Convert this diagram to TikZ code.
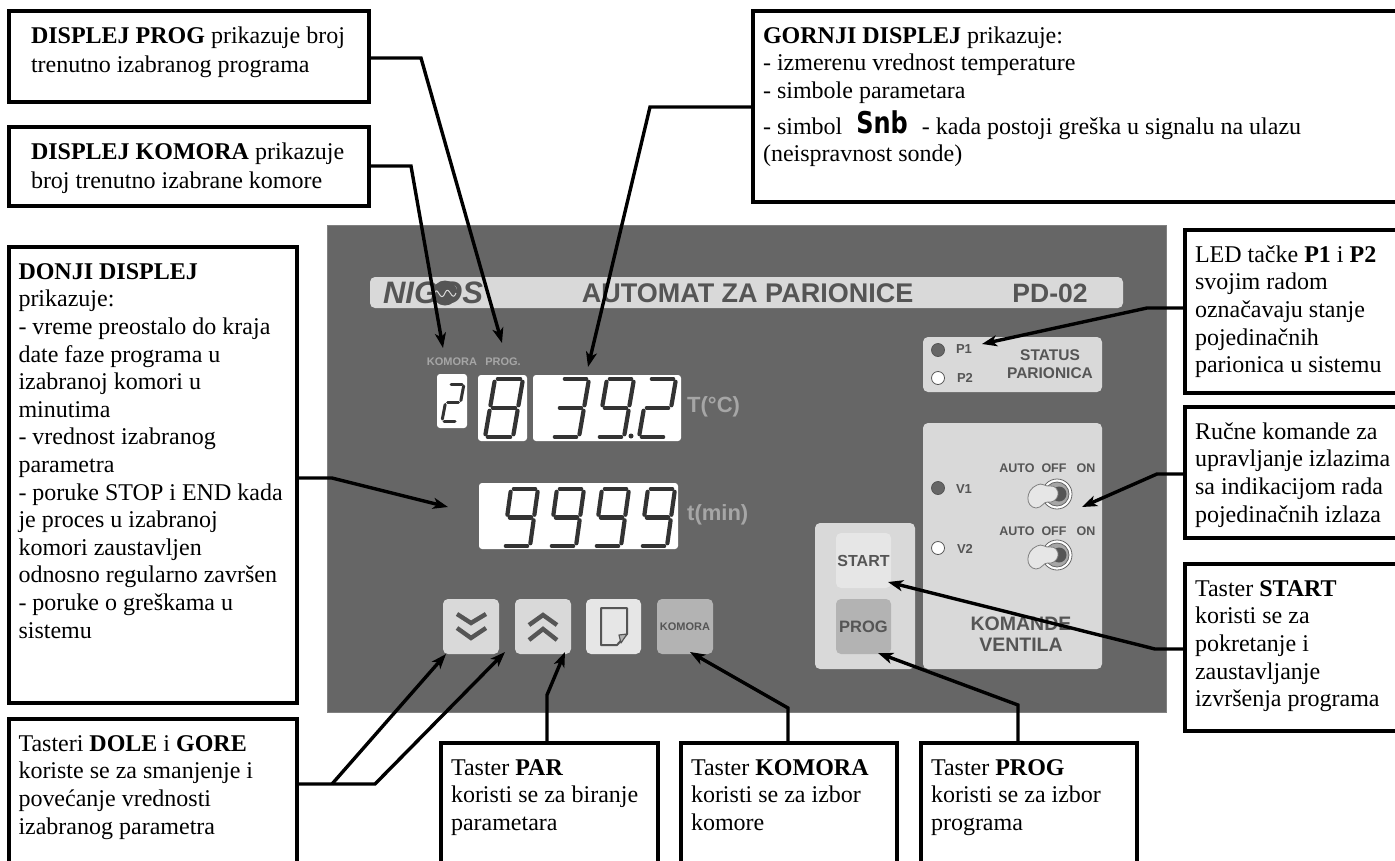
\documentclass[tikz,border=0pt]{standalone}
\usepackage{fontspec}
\usepackage{graphicx}
\usetikzlibrary{arrows.meta,positioning}
\setmainfont{Liberation Serif}
\newfontfamily\panelfont{Liberation Sans}
\newfontfamily\snbfont{DejaVu Sans}
\definecolor{panelgray}{RGB}{102,102,102}
\definecolor{platelight}{RGB}{217,217,217}
\definecolor{keylight}{RGB}{230,230,230}
\definecolor{keymid}{RGB}{179,179,179}
\definecolor{inkgray}{RGB}{85,85,85}
\definecolor{dimlabel}{RGB}{166,166,166}
\definecolor{segdark}{RGB}{51,51,51}
\newcommand{\boxtext}[3]{\parbox[t][#2pt][t]{#1pt}{\raggedright\strut #3}}
\def\digittwo{TL/TR,TR/MR,ML/MR,ML/BL,BL/BR}
\def\digitthree{TL/TR,TR/MR,MR/BR,BR/BL,ML/MR}
\def\digiteight{TL/TR,TR/MR,MR/BR,BR/BL,BL/ML,ML/TL,ML/MR}
\def\digitnine{TL/TR,TR/MR,MR/BR,BR/BL,ML/TL,ML/MR}
% x, top y, width, height, slant, segments
\newcommand{\segdigit}[6]{%
  \begin{scope}[shift={(#1,#2)}]
    \coordinate (TL) at (#5,0);
    \coordinate (TR) at (#5+#3,0);
    \coordinate (ML) at (#5/2,#4/2);
    \coordinate (MR) at (#5/2+#3,#4/2);
    \coordinate (BL) at (0,#4);
    \coordinate (BR) at (#3,#4);
    \foreach \p/\q in #6 {\draw[segment] (\p) -- (\q);}
  \end{scope}}
\newcommand{\valveswitch}[1]{%
  \begin{scope}[shift={(#1)}]
    \draw[draw=panelgray,fill=white,line width=.8pt] (9,0) circle (15);
    \draw[draw=panelgray,fill=dimlabel,line width=.8pt] (9,0) circle (12);
    \fill[inkgray] (11,0) circle (7.5);
    \draw[draw=gray,fill=keylight,line width=.8pt] (-11,-9) .. controls (-6,-12) and (-3,-7) .. (2,-8)
      .. controls (7,-9) and (11,-4) .. (10,1) .. controls (9,6) and (4,9) .. (0,8)
      .. controls (-4,7) and (-6,14) .. (-12,14) .. controls (-23,13) and (-23,-4) .. cycle;
  \end{scope}}
\begin{document}
\begin{tikzpicture}[x=1pt,y=-1pt,
  plate/.style={rectangle,rounded corners=5pt,anchor=north west,inner sep=0pt,outer sep=0pt},
  paneltext/.style={inner sep=0pt,text=inkgray,align=center,font=\panelfont\bfseries\fontsize{#1}{#1}\selectfont},
  dimtext/.style={inner sep=0pt,text=dimlabel,font=\panelfont\bfseries\fontsize{#1}{#1}\selectfont},
  led/.style={circle,draw=inkgray,line width=.8pt,minimum size=13pt,inner sep=0pt},
  segment/.style={draw=segdark,line width=4.2pt,line cap=round,shorten <=2.8pt,shorten >=2.8pt},
  chevron/.style={draw=inkgray,line width=4.4pt},
  notebox/.style={rectangle,draw=black,line width=4pt,fill=white,anchor=north west,outer sep=0pt,
    inner xsep=10pt,inner ysep=13pt,font=\fontsize{24}{27.6}\selectfont},
  lead/.style={-{Stealth[length=15pt,width=11pt,inset=4pt]},line width=3.4pt,black}
]
\useasboundingbox (0,0) rectangle (1395,860);
\fill[white] (0,0) rectangle (1395,860);
\node[rectangle,anchor=north west,inner sep=0pt,outer sep=0pt,draw=gray,fill=panelgray,minimum width=839pt,minimum height=487pt] (panel) at (327,225) {};
% title strip
\node[plate,fill=platelight,minimum width=753pt,minimum height=31pt] (strip) at (370,277) {};
\node[inner sep=0pt,text=inkgray,font=\panelfont\bfseries\itshape\fontsize{31}{31}\selectfont] (nigos) at (433,293) {NIGOS};
\node[circle,fill=inkgray,minimum size=25pt,inner sep=0pt] (logo) at (445,293) {};
\draw[platelight,line width=1pt] (434,294) .. controls (438,283) and (440,305) .. (445,293) .. controls (449,283) and (452,304) .. (456,293);
\node[paneltext=27] (title) at (747.5,293) {AUTOMAT ZA PARIONICE};
\node[paneltext=26.5] (model) at (1050,293) {PD-02};
% displays
\node[dimtext=11] (labkomora) at (452,362) {KOMORA};
\node[dimtext=11] (labprog) at (503,362) {PROG.};
\node[plate,rounded corners=3pt,fill=white,minimum width=30pt,minimum height=54pt] (dispkomora) at (437,374) {};
\node[plate,rounded corners=3pt,fill=white,minimum width=49pt,minimum height=66pt] (dispprog) at (478,375) {};
\node[plate,rounded corners=3pt,fill=white,minimum width=148pt,minimum height=66pt] (disptop) at (533,375) {};
\node[plate,rounded corners=3pt,fill=white,minimum width=199pt,minimum height=66pt] (dispbottom) at (479,483) {};
\begin{scope}[segment/.append style={line width=3pt,shorten <=2pt,shorten >=2pt}]
\segdigit{442}{384}{15}{37}{7}{\digittwo}
\end{scope}
\segdigit{485}{379}{28}{58}{10}{\digiteight}
\segdigit{552}{379}{27}{58}{10}{\digitthree}
\segdigit{597}{379}{27}{58}{10}{\digitnine}
\segdigit{639}{379}{27}{58}{10}{\digittwo}
\fill[segdark] (631,436) circle (2.5);
\segdigit{503}{489}{27}{57}{8}{\digitnine}
\segdigit{549}{489}{27}{57}{8}{\digitnine}
\segdigit{594}{489}{27}{57}{8}{\digitnine}
\segdigit{640}{489}{27}{57}{8}{\digitnine}
\node[dimtext=22,anchor=west] (unittemp) at (687,407) {T(°C)};
\node[dimtext=22,anchor=west] (unittime) at (687,515) {t(min)};
% front keys
\node[plate,fill=platelight,minimum width=56pt,minimum height=55pt] (keydown) at (443,599) {};
\node[plate,fill=platelight,minimum width=56pt,minimum height=55pt] (keyup) at (515,599) {};
\node[plate,fill=keylight,minimum width=55pt,minimum height=55pt] (keypar) at (586,599) {};
\node[plate,fill=keymid,minimum width=56pt,minimum height=55pt] (keykomora) at (657,599) {};
\node[paneltext=11] (labkeykomora) at (keykomora.center) {KOMORA};
\draw[chevron] (457,614) -- (471,623) -- (486,614);
\draw[chevron] (457,628) -- (471,638) -- (486,628);
\draw[chevron] (529,625) -- (543,615) -- (557,625);
\draw[chevron] (529,640) -- (543,629) -- (557,640);
\draw[inkgray,line width=2pt,line join=round] (601,608) -- (627,608) -- (627,634) -- (617,645) -- (601,645) -- cycle;
\draw[inkgray,fill=keymid,line width=1.2pt,line join=round] (619,635) -- (627,634) -- (621,643) -- cycle;
% status plate
\node[plate,fill=platelight,minimum width=179pt,minimum height=55pt] (platestatus) at (923,337) {};
\node[led,fill=panelgray] (ledpone) at (938,350) {};
\node[led,fill=white] (ledptwo) at (938,378) {};
\node[paneltext=13] (labpone) at (964,349) {P1};
\node[paneltext=13] (labptwo) at (965,378) {P2};
\node[paneltext=15.5] (labstatus) at (1050,364) {STATUS\\[2pt]PARIONICA};
% valve plate
\node[plate,fill=platelight,minimum width=179pt,minimum height=246pt] (platevalve) at (923,423) {};
\node[led,fill=panelgray] (ledvone) at (938,488) {};
\node[led,fill=white] (ledvtwo) at (938,548) {};
\node[paneltext=13] (labvone) at (964,489) {V1};
\node[paneltext=13] (labvtwo) at (965,549) {V2};
\foreach \y/\n in {468/a,531/b} {
  \node[paneltext=12.5] (auto\n) at (1017,\y) {AUTO};
  \node[paneltext=12.5] (off\n) at (1054,\y) {OFF};
  \node[paneltext=12.5] (on\n) at (1086,\y) {ON};
}
\valveswitch{1048,494}
\valveswitch{1048,555}
\node[paneltext=19.5] (labvalve) at (1021,634) {KOMANDE\\[2pt]VENTILA};
% start plate
\node[plate,fill=platelight,minimum width=100pt,minimum height=146pt] (platestart) at (815,523) {};
\node[plate,fill=keylight,minimum width=55pt,minimum height=55pt] (keystart) at (836,533) {};
\node[plate,fill=keymid,minimum width=55pt,minimum height=55pt] (keyprog) at (836,599) {};
\node[paneltext=16] (labstart) at (keystart.center) {START};
\node[paneltext=16.5] (labprogkey) at (keyprog.center) {PROG};
% notes
\node[notebox,inner xsep=22.5pt] (noteprog) at (8.5,11) {\boxtext{315.5}{65}{\textbf{DISPLEJ PROG} prikazuje broj\\[2pt]trenutno izabranog programa}};
\node[notebox,inner xsep=22.5pt] (notekomora) at (8.5,127) {\boxtext{315.5}{53}{\textbf{DISPLEJ KOMORA} prikazuje\\[1.5pt]broj trenutno izabrane komore}};
\node[notebox] (notelower) at (8.5,247) {\boxtext{268.5}{430}{\textbf{DONJI DISPLEJ}\\prikazuje:\\- vreme preostalo do kraja\\date faze programa u\\izabranoj komori u\\minutima\\- vrednost izabranog\\parametra\\- poruke STOP i END kada\\je proces u izabranoj\\komori zaustavljen\\odnosno regularno završen\\- poruke o greškama u\\sistemu}};
\node[notebox] (notekeys) at (8.5,719) {\boxtext{268.5}{140}{Tasteri \textbf{DOLE} i \textbf{GORE}\\koriste se za smanjenje i\\povećanje vrednosti\\izabranog parametra}};
\node[notebox] (notepar) at (441,743) {\boxtext{197}{120}{Taster \textbf{PAR}\\koristi se za biranje\\parametara}};
\node[notebox] (notekeykomora) at (681,743) {\boxtext{196}{120}{Taster \textbf{KOMORA}\\koristi se za izbor\\komore}};
\node[notebox] (notekeyprog) at (921,743) {\boxtext{196}{120}{Taster \textbf{PROG}\\koristi se za izbor\\programa}};
\node[notebox] (noteupper) at (753,11) {\boxtext{626}{165}{\textbf{GORNJI DISPLEJ} prikazuje:\\- izmerenu vrednost temperature\\- simbole parametara\\[8pt]- simbol\hspace{14pt}\raisebox{1pt}{\smash{\snbfont\bfseries\fontsize{30}{30}\selectfont\scalebox{.8}[1]{Snb}}}\hspace{14pt}- kada postoji greška u signalu na ulazu\\(neispravnost sonde)}};
\node[notebox] (noteled) at (1185,230) {\boxtext{220}{137}{LED tačke \textbf{P1} i \textbf{P2}\\svojim radom\\označavaju stanje\\pojedinačnih\\parionica u sistemu}};
\node[notebox] (notemanual) at (1185,407) {\boxtext{220}{105}{Ručne komande za\\upravljanje izlazima\\sa indikacijom rada\\pojedinačnih izlaza}};
\node[notebox] (notestart) at (1185,564) {\boxtext{220}{141}{Taster \textbf{START}\\koristi se za\\pokretanje i\\zaustavljanje\\izvršenja programa}};
% bends and tips
\coordinate (progbend) at (421,58);
\coordinate (progtip) at (502,343);
\coordinate (komorabend) at (411,166);
\coordinate (komoratip) at (443,348);
\coordinate (upperbend) at (650,107);
\coordinate (uppertip) at (588,367);
\coordinate (lowerbend) at (332,478);
\coordinate (lowertip) at (448,507);
\coordinate (upbend) at (375,784);
\coordinate (uptip) at (505,652);
\coordinate (downbend) at (332,784);
\coordinate (downtip) at (446,654);
\coordinate (parbend) at (547,695);
\coordinate (partip) at (565,652);
\coordinate (kombend) at (788,708);
\coordinate (komtip) at (690,652);
\coordinate (keyprogbend) at (1018,705);
\coordinate (keyprogtip) at (878,653);
\coordinate (startbend) at (1155,649);
\coordinate (starttip) at (888,582);
\coordinate (manualbend) at (1157,474);
\coordinate (manualtip) at (1082,507);
\coordinate (ledbend) at (1147,308);
\coordinate (ledtip) at (982,344);
\draw[lead] (noteprog.east |- progbend) -- (progbend) -- (progtip);
\draw[lead] (notekomora.east |- komorabend) -- (komorabend) -- (komoratip);
\draw[lead] (noteupper.west |- upperbend) -- (upperbend) -- (uppertip);
\draw[lead] (notelower.east |- lowerbend) -- (lowerbend) -- (lowertip);
\draw[lead] (notekeys.east |- upbend) -- (upbend) -- (uptip);
\draw[lead] (downbend) -- (downtip);
\draw[lead] (notepar.north -| parbend) -- (parbend) -- (partip);
\draw[lead] (notekeykomora.north -| kombend) -- (kombend) -- (komtip);
\draw[lead] (notekeyprog.north -| keyprogbend) -- (keyprogbend) -- (keyprogtip);
\draw[lead] (notestart.west |- startbend) -- (startbend) -- (starttip);
\draw[lead] (notemanual.west |- manualbend) -- (manualbend) -- (manualtip);
\draw[lead] (noteled.west |- ledbend) -- (ledbend) -- (ledtip);
\end{tikzpicture}
\end{document}
